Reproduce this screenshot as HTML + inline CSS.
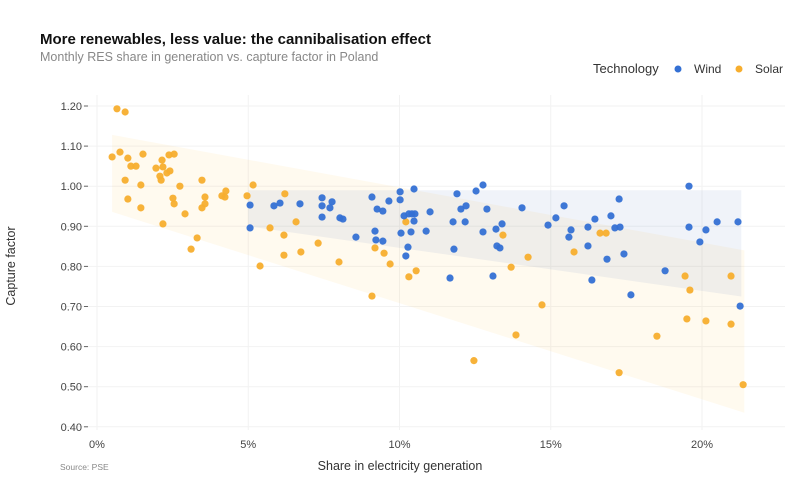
<!DOCTYPE html>
<html><head><meta charset="utf-8"><style>
html,body{margin:0;padding:0;background:#fff;}
svg{display:block;font-family:"Liberation Sans","DejaVu Sans",sans-serif;}
</style></head><body>
<svg id="chart" width="800" height="480" viewBox="0 0 800 480">
<text x="40" y="44" font-size="15" font-weight="bold" fill="#111">More renewables, less value: the cannibalisation effect</text>
<text x="40" y="61" font-size="12.5" fill="#888">Monthly RES share in generation vs. capture factor in Poland</text>
<g>
<text x="593" y="73" font-size="13" fill="#333">Technology</text>
<g><circle cx="678" cy="69" r="3.5" fill="#3470d4"/><text x="694" y="73" font-size="12" fill="#333">Wind</text></g>
<g><circle cx="739" cy="69" r="3.5" fill="#f7ae2e"/><text x="755" y="73" font-size="12" fill="#333">Solar</text></g>
</g>
<g id="grid"></g>
<g id="bands"></g>
<g id="axes"></g>
<g id="points"></g>
<text x="400" y="470" font-size="12.5" fill="#333" text-anchor="middle">Share in electricity generation</text>
<text transform="translate(15,266) rotate(-90)" font-size="12.5" fill="#333" text-anchor="middle">Capture factor</text>
<text x="60" y="470" font-size="8.5" fill="#888">Source: PSE</text>
</svg>
<script>
const xTicks = [0, 5, 10, 15, 20];
const xTickLabels = ["0%", "5%", "10%", "15%", "20%"];
const yTicks = [0.4, 0.5, 0.6, 0.7, 0.8, 0.9, 1.0, 1.1, 1.2];
const yTickLabels = ["0.40", "0.50", "0.60", "0.70", "0.80", "0.90", "1.00", "1.10", "1.20"];

const windX = [5.06,5.06,5.85,6.05,6.71,7.44,7.44,7.77,7.70,7.44,8.03,8.13,8.56,9.09,9.26,9.45,9.65,10.02,10.02,9.19,9.22,9.45,10.05,10.15,10.28,10.21,10.48,10.31,10.41,10.51,10.48,10.38,10.88,11.01,11.90,12.03,12.20,11.77,12.17,11.80,11.67,12.53,12.76,12.89,12.76,13.19,13.39,13.22,13.32,13.09,14.05,14.91,15.17,15.44,15.67,15.60,16.23,16.23,16.46,16.36,16.99,16.86,17.26,17.12,17.29,17.42,17.65,18.78,19.57,19.57,19.93,20.13,20.50,21.19,21.26];
const windY = [0.953,0.896,0.951,0.958,0.956,0.971,0.951,0.961,0.946,0.923,0.921,0.918,0.873,0.973,0.943,0.938,0.963,0.986,0.966,0.888,0.866,0.863,0.883,0.926,0.848,0.826,0.993,0.931,0.931,0.931,0.913,0.886,0.888,0.936,0.981,0.943,0.951,0.911,0.911,0.843,0.771,0.988,1.003,0.943,0.886,0.893,0.906,0.851,0.846,0.776,0.946,0.903,0.921,0.951,0.891,0.873,0.898,0.851,0.918,0.766,0.926,0.818,0.968,0.896,0.898,0.831,0.729,0.789,1.000,0.898,0.861,0.891,0.911,0.911,0.701];
const solarX = [0.66,0.93,0.50,0.76,1.02,1.52,1.12,1.29,0.93,1.45,1.02,1.45,1.95,2.15,2.18,2.38,2.55,2.08,2.12,2.31,2.41,2.74,2.51,2.55,2.18,2.91,3.31,3.11,3.47,3.57,3.57,3.47,4.13,4.26,4.23,4.96,5.16,5.39,5.72,6.21,6.18,6.18,6.58,6.74,7.31,8.00,9.09,9.19,9.49,9.69,10.21,10.31,10.55,12.46,13.42,13.69,14.25,14.71,13.85,15.77,16.63,16.83,17.26,18.51,19.44,19.60,19.50,20.13,20.96,20.96,21.36];
const solarY = [1.193,1.185,1.073,1.085,1.070,1.080,1.050,1.050,1.015,1.003,0.968,0.946,1.045,1.065,1.048,1.078,1.080,1.025,1.015,1.033,1.038,1.000,0.970,0.956,0.906,0.931,0.871,0.843,1.015,0.973,0.956,0.946,0.976,0.988,0.973,0.976,1.003,0.801,0.896,0.981,0.878,0.828,0.911,0.836,0.858,0.811,0.726,0.846,0.833,0.806,0.911,0.774,0.789,0.565,0.878,0.798,0.823,0.704,0.629,0.836,0.883,0.883,0.535,0.626,0.776,0.741,0.669,0.664,0.656,0.776,0.505];

const windBandX = [5.0, 21.3];
const windBandUpper = [0.99, 0.99];
const windBandLower = [0.90, 0.725];
const solarBandX = [0.5, 21.4];
const solarBandUpper = [1.128, 0.84];
const solarBandLower = [0.936, 0.435];

const NS = "http://www.w3.org/2000/svg";
function xScale(v){ return 97 + v * 30.25; }
function yScale(v){ return 106 + (1.2 - v) * 401; }
function mk(tag, attrs, parent){ const e = document.createElementNS(NS, tag); for (const k in attrs) e.setAttribute(k, attrs[k]); parent.appendChild(e); return e; }

const grid = document.getElementById('grid');
const axes = document.getElementById('axes');
yTicks.forEach((t, i) => {
  const y = yScale(t);
  const g = mk('line', {x1: 62, x2: 785, y1: y, y2: y, stroke: '#f2f2f2', 'stroke-width': 1}, grid);
  
  
  const lbl = mk('text', {x: 82, y: y + 4, 'font-size': 11, fill: '#444', 'text-anchor': 'end'}, axes);
  lbl.textContent = yTickLabels[i];
  
  
  const tk = mk('line', {x1: 84, x2: 88, y1: y, y2: y, stroke: '#666', 'stroke-width': 1}, axes);
  
  
});
xTicks.forEach((t, i) => {
  const x = xScale(t);
  const g = mk('line', {x1: x, x2: x, y1: 95, y2: 430, stroke: '#f2f2f2', 'stroke-width': 1}, grid);
  
  
  const lbl = mk('text', {x: x, y: 448, 'font-size': 11, fill: '#444', 'text-anchor': 'middle'}, axes);
  lbl.textContent = xTickLabels[i];
  
  
});

const bands = document.getElementById('bands');
function band(xs, up, lo, fill, name){
  const pts = [];
  for (let i = 0; i < xs.length; i++) pts.push(xScale(xs[i]) + ',' + yScale(up[i]));
  for (let i = xs.length - 1; i >= 0; i--) pts.push(xScale(xs[i]) + ',' + yScale(lo[i]));
  const p = mk('polygon', {points: pts.join(' '), fill: fill}, bands);
  
  
}
band(solarBandX, solarBandUpper, solarBandLower, 'rgba(255,196,80,0.09)', 'solar-band');
band(windBandX, windBandUpper, windBandLower, 'rgba(90,120,190,0.09)', 'wind-band');

const points = document.getElementById('points');
solarX.forEach((v, i) => {
  const c = mk('circle', {cx: xScale(v), cy: yScale(solarY[i]), r: 3.6, fill: '#f7ae2e', 'fill-opacity': 0.95}, points);
  
  
});
windX.forEach((v, i) => {
  const c = mk('circle', {cx: xScale(v), cy: yScale(windY[i]), r: 3.6, fill: '#3470d4', 'fill-opacity': 0.95}, points);
  
  
});
</script>
</body></html>
